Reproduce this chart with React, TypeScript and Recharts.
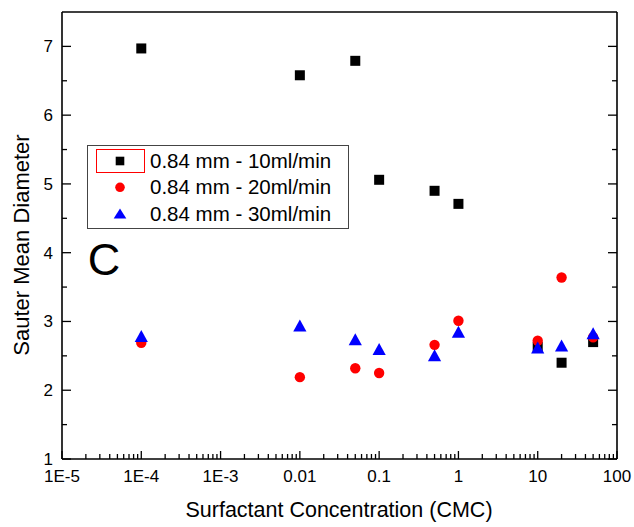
import { ScatterChart, Scatter, XAxis, YAxis, Legend } from "recharts";

// surfactant concentration (CMC) shared by the three runs
const concentration = [1e-4, 0.01, 0.05, 0.1, 0.5, 1, 10, 20, 50];
// Sauter mean diameter per flow rate
const diameter10 = [6.97, 6.58, 6.79, 5.06, 4.9, 4.71, 2.63, 2.4, 2.7];
const diameter20 = [2.69, 2.19, 2.32, 2.25, 2.66, 3.01, 2.72, 3.64, 2.77];
const diameter30 = [2.79, 2.94, 2.74, 2.6, 2.51, 2.85, 2.62, 2.65, 2.83];

const seriesNames = [
  "0.84 mm - 10ml/min",
  "0.84 mm - 20ml/min",
  "0.84 mm - 30ml/min",
];

const xMajorTicks = [1e-5, 1e-4, 1e-3, 0.01, 0.1, 1, 10, 100];
const xTickLabels = ["1E-5", "1E-4", "1E-3", "0.01", "0.1", "1", "10", "100"];
const yTicks = [1, 1.5, 2, 2.5, 3, 3.5, 4, 4.5, 5, 5.5, 6, 6.5, 7];

// log minor ticks 2..9 within each decade
const xTicks = xMajorTicks.flatMap((d, i) =>
  i === xMajorTicks.length - 1 ? [d] : [d, 2 * d, 3 * d, 4 * d, 5 * d, 6 * d, 7 * d, 8 * d, 9 * d]
);

const toPoints = (ys: number[]) => concentration.map((x, i) => ({ x, y: ys[i] }));

const FONT = '"Liberation Sans", Arial, sans-serif';
const AXIS_W = 1.6;

const isMajorX = (v: number) => {
  const l = Math.log10(v);
  return Math.abs(l - Math.round(l)) < 1e-9;
};
const xLabel = (v: number) => {
  const i = xMajorTicks.findIndex((t) => Math.abs(Math.log10(t) - Math.log10(v)) < 1e-9);
  return i >= 0 ? xTickLabels[i] : "";
};

const BottomTick = (props: any) => {
  const { x, y, payload } = props;
  const major = isMajorX(payload.value);
  return (
    <g>
      <line x1={x} x2={x} y1={y} y2={y - (major ? 8 : 5)} stroke="#000" strokeWidth={1.3} />
      {major && (
        <text x={x} y={y + 23} textAnchor="middle" fontSize={17} fontFamily={FONT} fill="#000">
          {xLabel(payload.value)}
        </text>
      )}
    </g>
  );
};

const TopTick = (props: any) => {
  const { x, y, payload } = props;
  const major = isMajorX(payload.value);
  return <line x1={x} x2={x} y1={y} y2={y + (major ? 8 : 5)} stroke="#000" strokeWidth={1.3} />;
};

const LeftTick = (props: any) => {
  const { x, y, payload } = props;
  const major = Number.isInteger(payload.value);
  return (
    <g>
      <line x1={x} x2={x + (major ? 9 : 5)} y1={y} y2={y} stroke="#000" strokeWidth={1.3} />
      {major && (
        <text x={x - 9} y={y + 6} textAnchor="end" fontSize={17} fontFamily={FONT} fill="#000">
          {payload.value}
        </text>
      )}
    </g>
  );
};

const RightTick = (props: any) => {
  const { x, y, payload } = props;
  const major = Number.isInteger(payload.value);
  return <line x1={x} x2={x - (major ? 9 : 5)} y1={y} y2={y} stroke="#000" strokeWidth={1.3} />;
};

const Square = ({ cx, cy, s = 5 }: any) => (
  <rect x={cx - s} y={cy - s} width={2 * s} height={2 * s} fill="#000000" />
);
const Dot = ({ cx, cy, r = 5.2 }: any) => <circle cx={cx} cy={cy} r={r} fill="#ff0000" />;
const Triangle = ({ cx, cy, w = 6.6, h = 6 }: any) => (
  <polygon points={`${cx},${cy - h} ${cx + w},${cy + h} ${cx - w},${cy + h}`} fill="#0000ff" />
);

const LegendBox = (props: any) => {
  const payload = props.payload || [];
  const markers = [
    (cx: number, cy: number) => <Square cx={cx} cy={cy} s={4.3} />,
    (cx: number, cy: number) => <Dot cx={cx} cy={cy} r={4.8} />,
    (cx: number, cy: number) => <Triangle cx={cx} cy={cy} w={6.3} h={5} />,
  ];
  return (
    <svg width={262} height={84} style={{ display: "block" }}>
      <rect x={0.5} y={0.5} width={261} height={83} fill="#fff" stroke="#444" strokeWidth={1} />
      <rect x={9.5} y={4.5} width={48} height={23} fill="none" stroke="#ff0000" strokeWidth={1} />
      {payload.map((p: any, i: number) => (
        <g key={i}>
          {markers[i](33, 16 + i * 26.3)}
          <text x={63} y={22.5 + i * 26.5} fontSize={20.5} fontFamily={FONT} fill="#000">
            {p.value}
          </text>
        </g>
      ))}
    </svg>
  );
};

export default function App() {
  return (
    <div style={{ position: "absolute", left: 0, top: 0, width: 634, height: 527, background: "#fff" }}>
      <ScatterChart width={634} height={527} margin={{ top: 11, right: 16, bottom: 67, left: 61 }}>
        <XAxis
          dataKey="x"
          type="number"
          scale="log"
          domain={[1e-5, 100]}
          allowDataOverflow
          ticks={xTicks}
          interval={0}
          height={1}
          tickSize={0}
          tickMargin={0}
          tickLine={false}
          tick={<BottomTick />}
          axisLine={{ stroke: "#000", strokeWidth: AXIS_W }}
        />
        <XAxis
          xAxisId="top"
          orientation="top"
          type="number"
          scale="log"
          domain={[1e-5, 100]}
          allowDataOverflow
          ticks={xTicks}
          interval={0}
          height={1}
          tickSize={0}
          tickMargin={0}
          tickLine={false}
          tick={<TopTick />}
          axisLine={{ stroke: "#000", strokeWidth: AXIS_W }}
        />
        <YAxis
          dataKey="y"
          type="number"
          domain={[1, 7.5]}
          allowDataOverflow
          ticks={yTicks}
          interval={0}
          width={1}
          tickSize={0}
          tickMargin={0}
          tickLine={false}
          tick={<LeftTick />}
          axisLine={{ stroke: "#000", strokeWidth: AXIS_W }}
        />
        <YAxis
          yAxisId="right"
          orientation="right"
          type="number"
          domain={[1, 7.5]}
          allowDataOverflow
          ticks={yTicks}
          interval={0}
          width={1}
          tickSize={0}
          tickMargin={0}
          tickLine={false}
          tick={<RightTick />}
          axisLine={{ stroke: "#000", strokeWidth: AXIS_W }}
        />
        <Legend
          layout="vertical"
          align="center"
          verticalAlign="middle"
          content={<LegendBox />}
          wrapperStyle={{ left: 87, top: 145, width: 262, height: 84 }}
        />
        <Scatter
          name={seriesNames[0]}
          data={toPoints(diameter10)}
          fill="#000000"
          shape={(p: any) => <Square cx={p.cx} cy={p.cy} />}
          isAnimationActive={false}
        />
        <Scatter
          name={seriesNames[1]}
          data={toPoints(diameter20)}
          fill="#ff0000"
          shape={(p: any) => <Dot cx={p.cx} cy={p.cy} />}
          isAnimationActive={false}
        />
        <Scatter
          name={seriesNames[2]}
          data={toPoints(diameter30)}
          fill="#0000ff"
          shape={(p: any) => <Triangle cx={p.cx} cy={p.cy} />}
          isAnimationActive={false}
        />
      </ScatterChart>
      <svg
        width={634}
        height={527}
        style={{ position: "absolute", left: 0, top: 0, pointerEvents: "none" }}
      >
        <text x={104} y={275} textAnchor="middle" fontSize={45} fontFamily={FONT} fill="#000">
          C
        </text>
        <text x={339} y={517} textAnchor="middle" fontSize={21.5} fontFamily={FONT} fill="#000">
          Surfactant Concentration (CMC)
        </text>
        <text
          x={0}
          y={0}
          transform="translate(28.5 245) rotate(-90)"
          textAnchor="middle"
          fontSize={22}
          fontFamily={FONT}
          fill="#000"
        >
          Sauter Mean Diameter
        </text>
      </svg>
    </div>
  );
}
